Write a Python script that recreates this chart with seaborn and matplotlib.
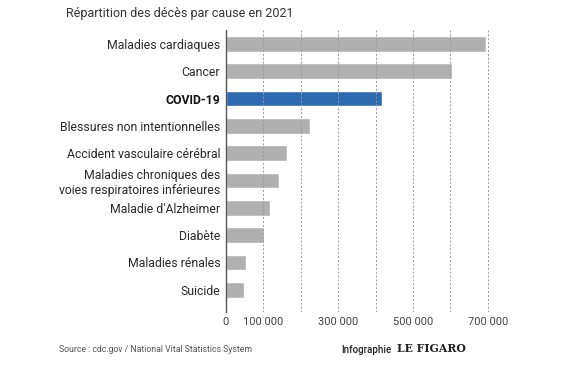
import pandas as pd
import numpy as np
import matplotlib.pyplot as plt
import seaborn as sns

# data
causes = ["Maladies cardiaques", "Cancer", "COVID-19", "Blessures non intentionnelles",
          "Accident vasculaire cérébral", "Maladies chroniques des\nvoies respiratoires inférieures",
          "Maladie d'Alzheimer", "Diabète", "Maladies rénales", "Suicide"]
deaths = [695547, 605213, 416893, 224935, 162890, 142342, 119399, 103294, 54358, 48183]
highlight = "COVID-19"
tick_values = [0, 100000, 300000, 500000, 700000]
tick_labels = ["0", "100 000", "300 000", "500 000", "700 000"]

df = pd.DataFrame({"cause": causes, "deaths": deaths})

sns.set_theme(style="white")
plt.rcParams['font.family'] = ['Roboto', 'DejaVu Sans']

fig = plt.figure(figsize=(5.76, 3.70), dpi=100)
ax = fig.add_axes([0.392, 0.157, 0.468, 0.762])

colors = ['#2d6ab0' if c == highlight else '#b0b0b0' for c in causes]
sns.barplot(data=df, x="deaths", y="cause", hue="cause", palette=colors,
            saturation=1, legend=False, width=0.58, ax=ax, zorder=1)

ax.set_xlim(0, 720000)
ax.set_ylim(9.81, -0.51)
for x in np.arange(100000, 800000, 100000):
    ax.axvline(x, color='#9a9a9a', lw=0.7, ls=(0, (2, 2)), zorder=3)
ax.set_xticks(tick_values)
ax.set_xticklabels(tick_labels, fontsize=8, color='#444444')
ax.tick_params(axis='x', length=0, pad=4)
ax.tick_params(axis='y', length=0, pad=4)
for lab in ax.get_yticklabels():
    lab.set_fontsize(8.8)
    lab.set_color('#2a2a2a')
    if lab.get_text() == highlight:
        lab.set_fontweight('bold')
        lab.set_color('#111111')
for s in ['top', 'right', 'bottom']:
    ax.spines[s].set_visible(False)
ax.spines['left'].set_color('#555555')
ax.spines['left'].set_linewidth(1.0)
ax.spines['left'].set_zorder(4)
ax.set_xlabel("")
ax.set_ylabel("")

fig.text(66/576, 1 - 13/370, "Répartition des décès par cause en 2021", fontsize=9,
         color='#333333', va='center', ha='left')
fig.text(59/576, 1 - 350/370, "Source : cdc.gov / National Vital Statistics System",
         fontsize=6.3, color='#555555', va='center', ha='left',
         family=['Liberation Sans Narrow', 'Roboto'])
fig.text(341/576, 1 - 350/370, "Infographie", fontsize=7.0, color='#222222',
         fontweight='medium', va='center', ha='left')
fig.text(397/576, 1 - 349/370, "LE FIGARO", fontsize=7.8, color='#222222',
         fontweight='bold', family=['DejaVu Serif'], va='center', ha='left')

plt.savefig('out.png', dpi=100)
